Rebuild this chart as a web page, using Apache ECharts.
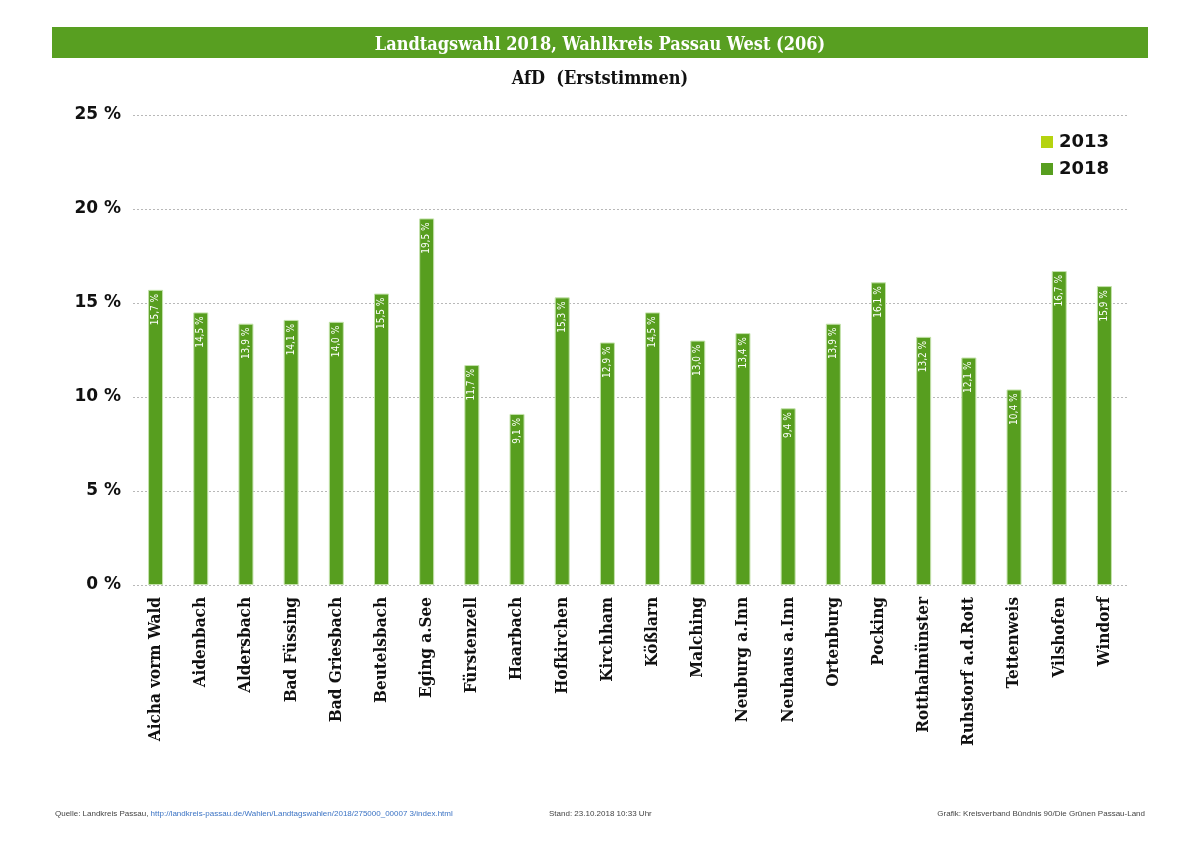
<!DOCTYPE html>
<html>
<head>
<meta charset="utf-8">
<script src="https://cdn.jsdelivr.net/npm/echarts@6/dist/echarts.min.js"></script>
<style>
  html, body { margin: 0; padding: 0; background: #fff; }
  #chart { width: 1200px; height: 848px; }
</style>
</head>
<body>
<div id="chart"></div>
<script>
var orte = ['Aicha vorm Wald', 'Aidenbach', 'Aldersbach', 'Bad Füssing', 'Bad Griesbach', 'Beutelsbach',
  'Eging a.See', 'Fürstenzell', 'Haarbach', 'Hofkirchen', 'Kirchham', 'Kößlarn', 'Malching',
  'Neuburg a.Inn', 'Neuhaus a.Inn', 'Ortenburg', 'Pocking', 'Rotthalmünster', 'Ruhstorf a.d.Rott',
  'Tettenweis', 'Vilshofen', 'Windorf'];
var werte2013 = [];
var werte2018 = [15.7, 14.5, 13.9, 14.1, 14.0, 15.5, 19.5, 11.7, 9.1, 15.3, 12.9, 14.5, 13.0, 13.4, 9.4, 13.9, 16.1, 13.2, 12.1, 10.4, 16.7, 15.9];
var jahre = ['2013', '2018'];

var chart = echarts.init(document.getElementById('chart'));

var slab = '"DejaVu Serif Condensed", "DejaVu Serif", serif';
var klein = '"Liberation Sans Narrow", "Liberation Sans", sans-serif';

chart.setOption({
  color: ['#b5d30f', '#579e1f'],
  animation: false,
  title: [{
    text: 'Landtagswahl 2018, Wahlkreis Passau West (206)',
    left: 'center',
    top: 31,
    textStyle: { color: '#fff', fontFamily: slab, fontWeight: 'bold', fontSize: 18 }
  }, {
    text: 'AfD  (Erststimmen)',
    left: 'center',
    top: 65,
    textStyle: { color: '#111', fontFamily: slab, fontWeight: 'bold', fontSize: 18 }
  }],
  graphic: [{
    type: 'rect',
    z: -1,
    shape: { x: 52, y: 27, width: 1096, height: 31 },
    style: { fill: '#589f21' }
  }, {
    type: 'text',
    left: 55, top: 810,
    style: {
      text: '{a|Quelle: Landkreis Passau, }{b|http://landkreis-passau.de/Wahlen/Landtagswahlen/2018/275000_00007 3/index.html}',
      rich: {
        a: { fontSize: 8, fontFamily: klein, fill: '#444' },
        b: { fontSize: 8, fontFamily: klein, fill: '#3b73c4' }
      }
    }
  }, {
    type: 'text',
    left: 549, top: 810,
    style: { text: 'Stand: 23.10.2018 10:33 Uhr', fontSize: 8, fontFamily: klein, fill: '#444' }
  }, {
    type: 'text',
    right: 55, top: 810,
    style: { text: 'Grafik: Kreisverband Bündnis 90/Die Grünen Passau-Land', fontSize: 8, fontFamily: klein, fill: '#444' }
  }],
  legend: {
    data: jahre,
    orient: 'vertical',
    left: 1036,
    top: 128,
    icon: 'rect',
    itemWidth: 12,
    itemHeight: 12,
    itemGap: 9,
    itemStyle: { borderWidth: 0 },
    textStyle: { fontSize: 18, fontWeight: 'bold', color: '#111', fontFamily: 'DejaVu Sans', padding: [0, 0, 0, 1] }
  },
  grid: {
    left: 133,
    right: 73,
    top: 115,
    bottom: 263,
    containLabel: false
  },
  xAxis: {
    type: 'category',
    data: orte,
    axisLine: { show: false },
    axisTick: { show: false },
    axisLabel: {
      interval: 0,
      rotate: 90,
      margin: 12,
      color: '#111',
      fontSize: 17,
      fontWeight: 'bold',
      fontFamily: slab
    }
  },
  yAxis: {
    type: 'value',
    min: 0,
    max: 25,
    interval: 5,
    axisLine: { show: false },
    axisTick: { show: false },
    splitLine: { lineStyle: { type: [2, 2], color: '#b8b8b8' } },
    axisLabel: {
      margin: 12,
      color: '#111',
      fontSize: 17,
      fontWeight: 'bold',
      fontFamily: 'DejaVu Sans',
      formatter: function (v) { return v + ' %'; }
    }
  },
  series: [{
    name: '2013',
    type: 'bar',
    data: werte2013,
    barWidth: 15,
    barGap: '-100%'
  }, {
    name: '2018',
    type: 'bar',
    data: werte2018,
    barWidth: 15,
    barGap: '-100%',
    itemStyle: { borderColor: '#c5e3ad', borderWidth: 1 },
    label: {
      show: true,
      position: 'insideTop',
      rotate: 90,
      align: 'right',
      verticalAlign: 'middle',
      distance: 4,
      color: '#fff',
      fontSize: 10,
      fontFamily: '"DejaVu Sans Condensed", "DejaVu Sans", sans-serif',
      formatter: function (p) { return p.value.toFixed(1).replace('.', ',') + ' %'; }
    }
  }]
});
</script>
</body>
</html>
